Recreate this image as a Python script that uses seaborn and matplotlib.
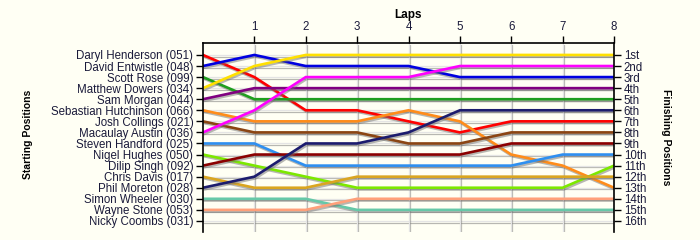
import matplotlib
matplotlib.use("Agg")
import matplotlib.pyplot as plt
import matplotlib.patheffects as pe
import seaborn as sns
import pandas as pd

# ---- data ----
laps = [0, 1, 2, 3, 4, 5, 6, 7, 8]
drivers = [
    "Daryl Henderson (051)", "David Entwistle (048)", "Scott Rose (099)",
    "Matthew Dowers (034)", "Sam Morgan (044)", "Sebastian Hutchinson (066)",
    "Josh Collings (021)", "Macaulay Austin (036)", "Steven Handford (025)",
    "Nigel Hughes (050)", "Dilip Singh (092)", "Chris Davis (017)",
    "Phil Moreton (028)", "Simon Wheeler (030)", "Wayne Stone (053)",
    "Nicky Coombs (031)",
]
pos_henderson = [1, 3, 6, 6, 7, 8, 7, 7, 7]
pos_entwistle = [2, 1, 2, 2, 2, 3, 3, 3, 3]
pos_rose = [3, 5, 5, 5, 5, 5, 5, 5, 5]
pos_dowers = [4, 2, 1, 1, 1, 1, 1, 1, 1]
pos_morgan = [5, 4, 4, 4, 4, 4, 4, 4, 4]
pos_hutchinson = [6, 7, 7, 7, 6, 7, 10, 11, 13]
pos_collings = [7, 8, 8, 8, 9, 9, 8, 8, 8]
pos_austin = [8, 6, 3, 3, 3, 2, 2, 2, 2]
pos_handford = [9, 9, 11, 11, 11, 11, 11, 10, 10]
pos_hughes = [10, 11, 12, 13, 13, 13, 13, 13, 11]
pos_singh = [11, 10, 10, 10, 10, 10, 9, 9, 9]
pos_davis = [12, 13, 13, 12, 12, 12, 12, 12, 12]
pos_moreton = [13, 12, 9, 9, 8, 6, 6, 6, 6]
pos_wheeler = [14, 14, 14, 15, 15, 15, 15, 15, 15]
pos_stone = [15, 15, 15, 14, 14, 14, 14, 14, 14]
finish_labels = ["1st", "2nd", "3rd", "4th", "5th", "6th", "7th", "8th",
                 "9th", "10th", "11th", "12th", "13th", "14th", "15th", "16th"]

series = {
    drivers[0]: pos_henderson, drivers[1]: pos_entwistle, drivers[2]: pos_rose,
    drivers[3]: pos_dowers, drivers[4]: pos_morgan, drivers[5]: pos_hutchinson,
    drivers[6]: pos_collings, drivers[7]: pos_austin, drivers[8]: pos_handford,
    drivers[9]: pos_hughes, drivers[10]: pos_singh, drivers[11]: pos_davis,
    drivers[12]: pos_moreton, drivers[13]: pos_wheeler, drivers[14]: pos_stone,
}
colors = {
    drivers[0]: "#FF0000", drivers[1]: "#0000E0", drivers[2]: "#1E9E1E",
    drivers[3]: "#FFE000", drivers[4]: "#800080", drivers[5]: "#FF8C1A",
    drivers[6]: "#8B4513", drivers[7]: "#FF00FF", drivers[8]: "#2E8FF0",
    drivers[9]: "#7CE800", drivers[10]: "#8B0000", drivers[11]: "#DAA520",
    drivers[12]: "#1C1C6E", drivers[13]: "#66C8A8", drivers[14]: "#FFA07A",
}

rows = []
for d, vals in series.items():
    for lap, p in zip(laps, vals):
        rows.append({"driver": d, "lap": lap, "pos": p})
df = pd.DataFrame(rows)

# ---- plot ----
sns.set_theme(style="white")
plt.rcParams["font.family"] = ["Liberation Sans", "DejaVu Sans"]
bg = "#FFFFF4"
txt = "#1A1A3A"

fig = plt.figure(figsize=(7, 2.4), dpi=100, facecolor=bg)
ax = fig.add_axes([203 / 700, 1 - 232 / 240, (614 - 203) / 700, (232 - 43) / 240])
ax.set_facecolor(bg)

# grid
for p in range(1, 17):
    ax.axhline(p, color="#E4E4E4", lw=0.9, zorder=0)
for l in laps[1:]:
    ax.axvline(l, color="#E4E4E4", lw=0.9, zorder=0)

sns.lineplot(data=df, x="lap", y="pos", hue="driver", palette=colors,
             hue_order=list(series.keys()), legend=False, ax=ax, lw=1.9,
             estimator=None, sort=False)
for ln in ax.lines:
    ln.set_path_effects([pe.SimpleLineShadow(offset=(0.8, -1.2), shadow_color="#707070", alpha=0.5),
                         pe.Normal()])
    ln.set_solid_joinstyle("miter")

ax.set_xlim(0, 8)
ax.set_ylim(17.0, -0.08)
ax.set_xlabel("")
ax.set_ylabel("")

ax.xaxis.tick_top()
ax.set_xticks(laps[1:])
ax.set_xticklabels([str(l) for l in laps[1:]])
ax.set_yticks(range(1, 17))
ax.set_yticklabels(drivers)
ax.tick_params(axis="both", direction="out", length=5, width=1, color="black",
               labelsize=8.3, labelcolor=txt, pad=2)
ax.tick_params(axis="x", top=True, bottom=False)
ax.tick_params(axis="y", left=True)

for s in ["top", "left"]:
    ax.spines[s].set_visible(True)
    ax.spines[s].set_color("black")
    ax.spines[s].set_linewidth(1.2)
ax.spines["bottom"].set_visible(False)
ax.spines["right"].set_visible(False)

ax2 = ax.twinx()
ax2.set_ylim(ax.get_ylim())
ax2.set_yticks(range(1, 17))
ax2.set_yticklabels(finish_labels)
ax2.tick_params(axis="y", direction="out", length=5, width=1, color="black",
                labelsize=8.3, labelcolor=txt, pad=2, right=True)
for s in ["top", "bottom", "left"]:
    ax2.spines[s].set_visible(False)
ax2.spines["right"].set_visible(True)
ax2.spines["right"].set_color("black")
ax2.spines["right"].set_linewidth(1.2)
ax2.grid(False)

fig.text(408 / 700, 1 - 15 / 240, "Laps", ha="center", va="center",
         fontsize=8.5, fontweight="bold", color="black")
fig.text(28 / 700, 1 - 134 / 240, "Starting Positions", ha="center", va="center",
         rotation=90, fontsize=7.5, fontweight="bold", color="black")
fig.text(666 / 700, 1 - 137 / 240, "Finishing Positions", ha="center", va="center",
         rotation=-90, fontsize=7.5, fontweight="bold", color="black")

fig.savefig("out.png", dpi=100, facecolor=bg)
